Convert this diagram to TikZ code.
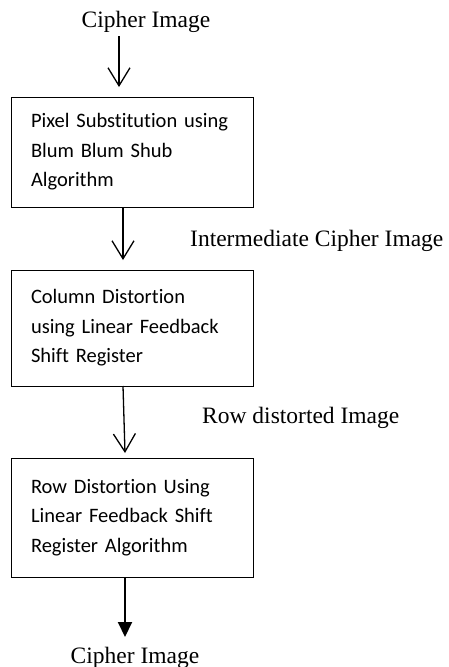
\documentclass[tikz,border=0pt]{standalone}
\usepackage{fontspec}
\setmainfont{Liberation Serif}
\newfontfamily\boxfont[Ligatures={NoCommon,NoRequired,NoContextual}]{Carlito}
\usetikzlibrary{arrows.meta}
\begin{document}
\begin{tikzpicture}[x=1pt,y=-1pt,
  lbl/.style={font=\fontsize{23.5}{28}\selectfont, inner sep=0pt},
  procbox/.style={draw, line width=0.9pt, minimum width=242pt, text width=202pt, inner xsep=20pt, inner ysep=0pt, align=left, font=\boxfont\fontsize{20.5}{29.5}\selectfont},
  openarrow/.style={line width=1.3pt, -{Straight Barb[length=18pt,width=22pt,line width=1.3pt]}},
  fillarrow/.style={line width=2pt, -{Triangle[length=15pt,width=14pt]}}]
\useasboundingbox (0,0) rectangle (448,667);
\node[lbl, anchor=base] (cin) at (146,27) {Cipher Image};
\node[procbox, minimum height=110pt] (b1) at (132,152) {Pixel Substitution using\\Blum Blum Shub\\Algorithm};
\node[lbl, anchor=base west] (mid) at (190,246) {Intermediate Cipher Image};
\node[procbox, minimum height=116pt] (b2) at (132,328) {Column Distortion\\using Linear Feedback\\Shift Register};
\node[lbl, anchor=base west] (rowd) at (202,423) {Row distorted Image};
\node[procbox, minimum height=119pt] (b3) at (132,517.5) {Row Distortion Using\\Linear Feedback Shift\\Register Algorithm};
\node[lbl, anchor=base] (cout) at (135,663) {Cipher Image};
\coordinate (a1s) at (119,36);
\coordinate (a1e) at (119,87);
\coordinate (a2e) at (123,260);
\coordinate (a3e) at (125,453);
\coordinate (a4e) at (125,637);
\draw[openarrow] (a1s) -- (a1e);
\draw[openarrow] (b1.south -| a2e) -- (a2e);
\draw[openarrow] (123,386) -- (a3e);
\draw[fillarrow] (b3.south -| a4e) -- (a4e);
\end{tikzpicture}
\end{document}
